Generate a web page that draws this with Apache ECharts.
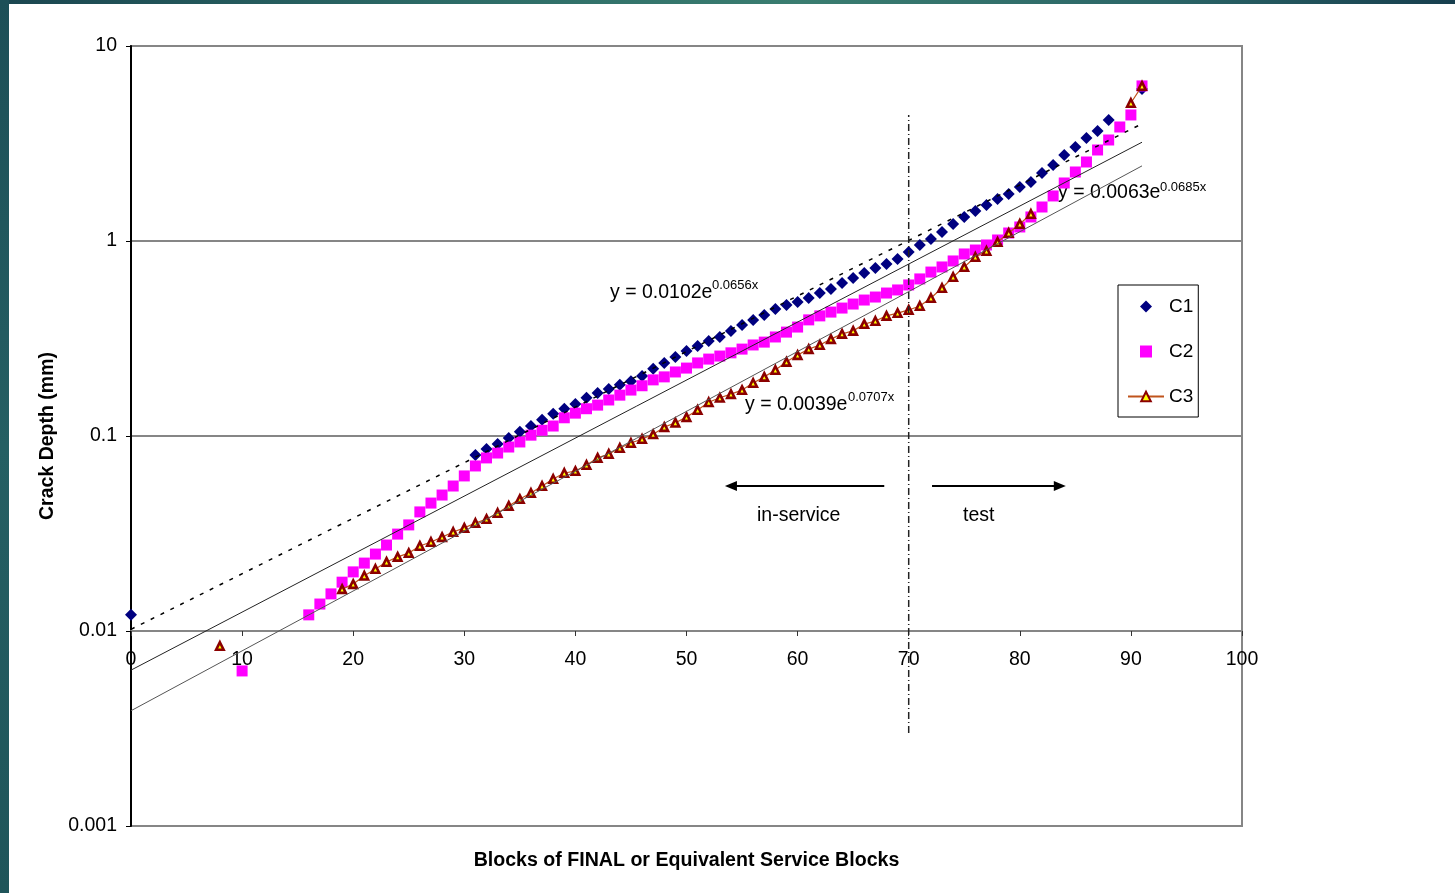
<!DOCTYPE html>
<html>
<head>
<meta charset="utf-8">
<title>Crack Depth vs Blocks</title>
<script src="https://cdn.jsdelivr.net/npm/echarts@6/dist/echarts.min.js"></script>
<style>
  html, body { margin: 0; padding: 0; width: 1455px; height: 893px; overflow: hidden; background: #fff; }
  #frameTop { position: absolute; left: 0; top: 0; width: 1455px; height: 4px;
    background: linear-gradient(90deg, #1b4650 0%, #2c6a66 30%, #3a7d70 55%, #2b6567 80%, #173e4e 100%); }
  #frameLeft { position: absolute; left: 0; top: 0; width: 9px; height: 893px;
    background: linear-gradient(180deg, #1d4f57 0%, #255f63 50%, #1f555a 100%); }
  #chart { position: absolute; left: 0; top: 0; width: 1455px; height: 893px; }
</style>
</head>
<body>
<div id="frameTop"></div>
<div id="frameLeft"></div>
<div id="chart"></div>
<script>
// ---- measured crack depths (mm) per block ----
const c1Blocks = [0,
  31, 32, 33, 34, 35, 36, 37, 38, 39, 40,
  41, 42, 43, 44, 45, 46, 47, 48, 49, 50,
  51, 52, 53, 54, 55, 56, 57, 58, 59, 60,
  61, 62, 63, 64, 65, 66, 67, 68, 69, 70,
  71, 72, 73, 74, 75, 76, 77, 78, 79, 80,
  81, 82, 83, 84, 85, 86, 87, 88,
  91];
const c1Depth = [0.0121,
  0.0799, 0.0858, 0.0910, 0.0977, 0.105, 0.1125, 0.121, 0.130, 0.138, 0.146,
  0.157, 0.166, 0.174, 0.183, 0.191, 0.203, 0.221, 0.237, 0.254, 0.273,
  0.289, 0.307, 0.322, 0.346, 0.371, 0.394, 0.417, 0.448, 0.470, 0.487,
  0.510, 0.541, 0.567, 0.609, 0.646, 0.686, 0.727, 0.762, 0.809, 0.878,
  0.954, 1.024, 1.112, 1.223, 1.328, 1.425, 1.529, 1.642, 1.742, 1.892,
  2.007, 2.232, 2.453, 2.761, 3.034, 3.375, 3.666, 4.174,
  6.02];

const c2Blocks = [10,
  16, 17, 18, 19, 20,
  21, 22, 23, 24, 25, 26, 27, 28, 29, 30,
  31, 32, 33, 34, 35, 36, 37, 38, 39, 40,
  41, 42, 43, 44, 45, 46, 47, 48, 49, 50,
  51, 52, 53, 54, 55, 56, 57, 58, 59, 60,
  61, 62, 63, 64, 65, 66, 67, 68, 69, 70,
  71, 72, 73, 74, 75, 76, 77, 78, 79, 80,
  81, 82, 83, 84, 85, 86, 87, 88, 89, 90,
  91];
const c2Depth = [0.00624,
  0.0121, 0.01375, 0.0155, 0.0178, 0.0201,
  0.0223, 0.0248, 0.0276, 0.0314, 0.0350, 0.0408, 0.0453, 0.0498, 0.0554, 0.0624,
  0.0702, 0.0772, 0.0818, 0.0878, 0.0932, 0.101, 0.107, 0.1125, 0.124, 0.131,
  0.138, 0.144, 0.153, 0.162, 0.172, 0.181, 0.194, 0.201, 0.213, 0.223,
  0.237, 0.248, 0.257, 0.267, 0.279, 0.293, 0.303, 0.322, 0.341, 0.362,
  0.394, 0.413, 0.432, 0.453, 0.475, 0.498, 0.516, 0.541, 0.561, 0.595,
  0.639, 0.693, 0.736, 0.790, 0.858, 0.899, 0.954, 1.012, 1.099, 1.180,
  1.328, 1.494, 1.702, 1.984, 2.259, 2.542, 2.929, 3.296, 3.843, 4.429,
  6.24];

// null = empty cell (the C3 line breaks there)
const c3Blocks = [8, 9,
  19, 20,
  21, 22, 23, 24, 25, 26, 27, 28, 29, 30,
  31, 32, 33, 34, 35, 36, 37, 38, 39, 40,
  41, 42, 43, 44, 45, 46, 47, 48, 49, 50,
  51, 52, 53, 54, 55, 56, 57, 58, 59, 60,
  61, 62, 63, 64, 65, 66, 67, 68, 69, 70,
  71, 72, 73, 74, 75, 76, 77, 78, 79, 80,
  81, 82,
  90, 91];
const c3Depth = [0.00838, null,
  0.0164, 0.0174,
  0.0192, 0.0208, 0.0226, 0.0240, 0.0251, 0.0273, 0.0286, 0.0303, 0.0322, 0.0338,
  0.0358, 0.0375, 0.0403, 0.0438, 0.0475, 0.0510, 0.0554, 0.0602, 0.0646, 0.0661,
  0.0710, 0.0772, 0.0809, 0.0868, 0.0921, 0.0965, 0.102, 0.111, 0.117, 0.125,
  0.136, 0.149, 0.157, 0.164, 0.172, 0.187, 0.201, 0.218, 0.240, 0.260,
  0.279, 0.293, 0.314, 0.334, 0.346, 0.375, 0.389, 0.413, 0.427, 0.443,
  0.464, 0.510, 0.574, 0.654, 0.736, 0.828, 0.889, 0.988, 1.099, 1.223,
  1.375, null,
  5.10, 6.24];

// exponential trend fits y = a * e^(b x), one per series (C1, C2, C3)
const trendA = [0.0102, 0.0063, 0.0039];
const trendB = [0.0656, 0.0685, 0.0707];
const trendSpan = [0, 91];

// axis tick values and titles
const xTicks = [0, 10, 20, 30, 40, 50, 60, 70, 80, 90, 100];
const yTicks = [0.001, 0.01, 0.1, 1, 10];
const xTitle = 'Blocks of FINAL or Equivalent Service Blocks';
const yTitle = 'Crack Depth (mm)';

// in-service / test boundary
const boundaryBlock = 70;
const boundarySpan = [0.003, 4.43];

const FONT = '"Liberation Sans", Arial, Helvetica, sans-serif';

// square legend glyphs (built-in symbols would stretch to the legend item box)
const DIAMOND_ICON = 'path://M6,0L12,6L6,12L0,6Z';
const SQUARE_ICON = 'path://M0,0L11,0L11,11L0,11Z';

const pairs = (xs, ys) => xs.map((x, i) => [x, ys[i] == null ? '-' : ys[i]]);
const trendLine = k => trendSpan.map(x => [x, trendA[k] * Math.exp(trendB[k] * x)]);
const eqMain = k => 'y = ' + trendA[k].toFixed(4) + 'e';
const eqExp = k => trendB[k].toFixed(4) + 'x';

const chart = echarts.init(document.getElementById('chart'), null, { renderer: 'canvas' });

const textItem = (x, y, text, size) => ({
  type: 'text', x: x, y: y, silent: true,
  style: { text: text, fontFamily: FONT, fontSize: size, fill: '#000', align: 'left', verticalAlign: 'middle' }
});

const option = {
  animation: false,
  backgroundColor: 'transparent',
  grid: [
    { left: 131, right: 213, top: 46, bottom: 67, show: true,
      borderColor: '#868686', borderWidth: 2, backgroundColor: 'transparent' },
    // horizontal axis crosses the log axis at 0.01
    { left: 131, right: 213, top: 46, bottom: 262, show: false }
  ],
  xAxis: [
    { type: 'value', gridIndex: 0, min: xTicks[0], max: xTicks[xTicks.length - 1], interval: 10,
      axisLine: { show: false }, axisTick: { show: false }, axisLabel: { show: false },
      splitLine: { show: false },
      name: xTitle, nameLocation: 'middle', nameGap: 25,
      nameTextStyle: { fontFamily: FONT, fontSize: 19.6, fontWeight: 'bold', color: '#000' } },
    { type: 'value', gridIndex: 1, min: xTicks[0], max: xTicks[xTicks.length - 1], interval: 10,
      position: 'bottom',
      axisLine: { show: true, onZero: false, lineStyle: { color: '#868686', width: 2 } },
      axisTick: { show: true, length: 5, lineStyle: { color: '#333', width: 1 } },
      axisLabel: { fontFamily: FONT, fontSize: 19.5, color: '#000', margin: 19 },
      splitLine: { show: false } }
  ],
  yAxis: [
    { type: 'log', gridIndex: 0, logBase: 10, min: yTicks[0], max: yTicks[yTicks.length - 1],
      axisLine: { show: true, lineStyle: { color: '#000', width: 2 } },
      axisTick: { show: true, length: 5, lineStyle: { color: '#000', width: 1 } },
      axisLabel: { fontFamily: FONT, fontSize: 19.5, color: '#000', margin: 14,
        formatter: v => String(Number(v.toPrecision(3))) },
      splitLine: { show: true, lineStyle: { color: '#868686', width: 2 } },
      name: yTitle, nameLocation: 'middle', nameGap: 73, nameRotate: 90,
      nameTextStyle: { fontFamily: FONT, fontSize: 19.5, fontWeight: 'bold', color: '#000' } },
    { type: 'value', gridIndex: 1, min: 0, max: 1, show: false }
  ],
  legend: {
    data: [
      { name: 'C1', icon: DIAMOND_ICON },
      { name: 'C2', icon: SQUARE_ICON },
      { name: 'C3' }
    ],
    orient: 'vertical', left: 1118, top: 285,
    padding: [12, 5, 11, 9], itemGap: 26, itemWidth: 36, itemHeight: 12,
    symbolKeepAspect: true,
    borderColor: '#000', borderWidth: 1, backgroundColor: '#fff',
    textStyle: { fontFamily: FONT, fontSize: 19, color: '#000' },
    selectedMode: false
  },
  graphic: [
    textItem(610, 293, eqMain(0), 19.5),
    textItem(712, 285, eqExp(0), 13),
    textItem(745, 405, eqMain(2), 19.5),
    textItem(848, 397, eqExp(2), 13),
    textItem(1058, 193, eqMain(1), 19.5),
    textItem(1160, 187, eqExp(1), 13),
    textItem(757, 516, 'in-service', 19.5),
    textItem(963, 516, 'test', 19.5)
  ],
  series: [
    { name: 'C1', type: 'scatter', xAxisIndex: 0, yAxisIndex: 0,
      symbol: 'diamond', symbolSize: 12,
      itemStyle: { color: '#000080', opacity: 1 },
      data: pairs(c1Blocks, c1Depth), z: 3 },
    { name: 'C2', type: 'scatter', xAxisIndex: 0, yAxisIndex: 0,
      symbol: 'rect', symbolSize: 11,
      itemStyle: { color: '#FF00FF', opacity: 1 },
      data: pairs(c2Blocks, c2Depth), z: 3 },
    { name: 'C3', type: 'line', xAxisIndex: 0, yAxisIndex: 0,
      symbol: 'triangle', symbolSize: 7.5, showAllSymbol: true, connectNulls: false,
      itemStyle: { color: '#FFFF00', borderColor: '#8B0000', borderWidth: 2.6, opacity: 1 },
      lineStyle: { color: '#C0541C', width: 1.2 },
      data: pairs(c3Blocks, c3Depth), z: 4 },
    { name: 'C1 fit', type: 'line', xAxisIndex: 0, yAxisIndex: 0, symbol: 'none', silent: true,
      lineStyle: { color: '#000', width: 1.5, type: [4, 7] }, data: trendLine(0), z: 5 },
    { name: 'C2 fit', type: 'line', xAxisIndex: 0, yAxisIndex: 0, symbol: 'none', silent: true,
      lineStyle: { color: '#222', width: 1 }, data: trendLine(1), z: 5 },
    { name: 'C3 fit', type: 'line', xAxisIndex: 0, yAxisIndex: 0, symbol: 'none', silent: true,
      lineStyle: { color: '#555', width: 1 }, data: trendLine(2), z: 5 },
    { name: 'boundary', type: 'line', xAxisIndex: 0, yAxisIndex: 0, symbol: 'none', silent: true,
      lineStyle: { color: '#222', width: 1.5, type: [7, 3, 1, 3] },
      data: boundarySpan.map(v => [boundaryBlock, v]), z: 5,
      markLine: {
        silent: true, symbol: ['none', 'triangle'], symbolSize: [10, 12],
        label: { show: false }, emphasis: { disabled: true },
        lineStyle: { color: '#000', width: 2, type: 'solid' },
        data: [
          [{ coord: [67.8, 0.0554] }, { coord: [54.0, 0.0554] }],
          [{ coord: [72.1, 0.0554] }, { coord: [83.6, 0.0554] }]
        ]
      } }
  ]
};

chart.setOption(option);
</script>
</body>
</html>
